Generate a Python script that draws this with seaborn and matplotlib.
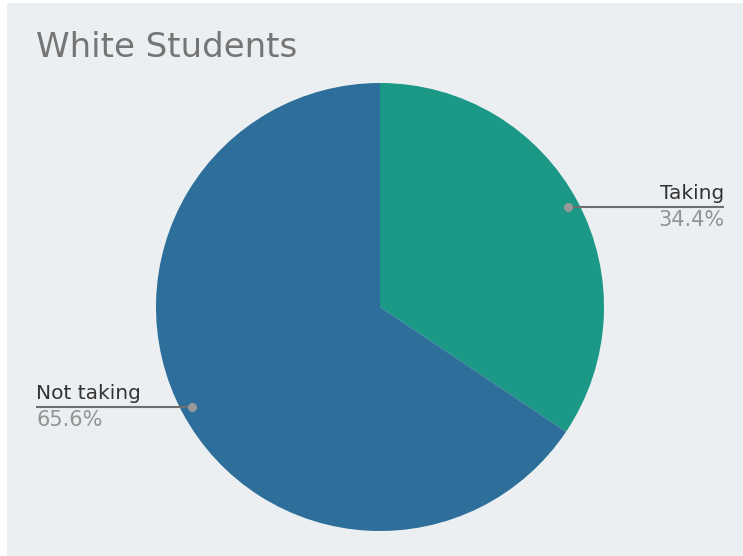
import numpy as np
import matplotlib
matplotlib.use("Agg")
import matplotlib.pyplot as plt
import seaborn as sns
from matplotlib.patches import Rectangle

categories = ["Taking", "Not taking"]
shares = [34.4, 65.6]
slice_colors = ["#1b9886", "#2d6e9a"]
title = "White Students"

sns.set_theme(style="white")
plt.rcParams["font.family"] = ["DejaVu Sans"]

W, H = 743, 556
fig = plt.figure(figsize=(W / 100, H / 100), dpi=100, facecolor="white")
# panel background
fig.patches.append(Rectangle((7 / W, 0), 1 - 7 / W, 1 - 3 / H, transform=fig.transFigure,
                             facecolor="#eceff1", edgecolor="none", zorder=-10))

cx, cy, r = 380, 307, 224
ax = fig.add_axes([(cx - r) / W, (H - cy - r) / H, 2 * r / W, 2 * r / H])
ax.set_zorder(5)
ax.set_facecolor("none")
ax.pie(shares, colors=slice_colors, startangle=90, counterclock=False, radius=1,
       wedgeprops=dict(linewidth=0))
ax.set_xlim(-1, 1)
ax.set_ylim(-1, 1)
ax.set_aspect("equal")
ax.axis("off")

fig.text(36 / W, 1 - 57 / H, title, fontsize=24.5, color="#757575", va="baseline", ha="left")

edge = (724 - cx) / r
cum = 0.0
total = sum(shares)
for name, val in zip(categories, shares):
    mid = (cum + val / 2) / total * 2 * np.pi
    cum += val
    dx, dy = 0.95 * np.sin(mid), 0.95 * np.cos(mid)
    right = dx >= 0
    xe = edge if right else -edge
    ax.plot([dx, xe], [dy, dy], color="#6f6f6f", lw=1.5, clip_on=False, solid_capstyle="butt")
    ax.plot([dx], [dy], "o", color="#999999", ms=5.5, clip_on=False, zorder=5)
    ha = "right" if right else "left"
    ax.text(xe, dy + 4 / r, name, ha=ha, va="bottom", fontsize=14.5, color="#333333", clip_on=False)
    ax.text(xe, dy - 3 / r, f"{val:.1f}%", ha=ha, va="top", fontsize=15, color="#939393", clip_on=False)

fig.savefig("out.png", dpi=100, facecolor=fig.get_facecolor())
